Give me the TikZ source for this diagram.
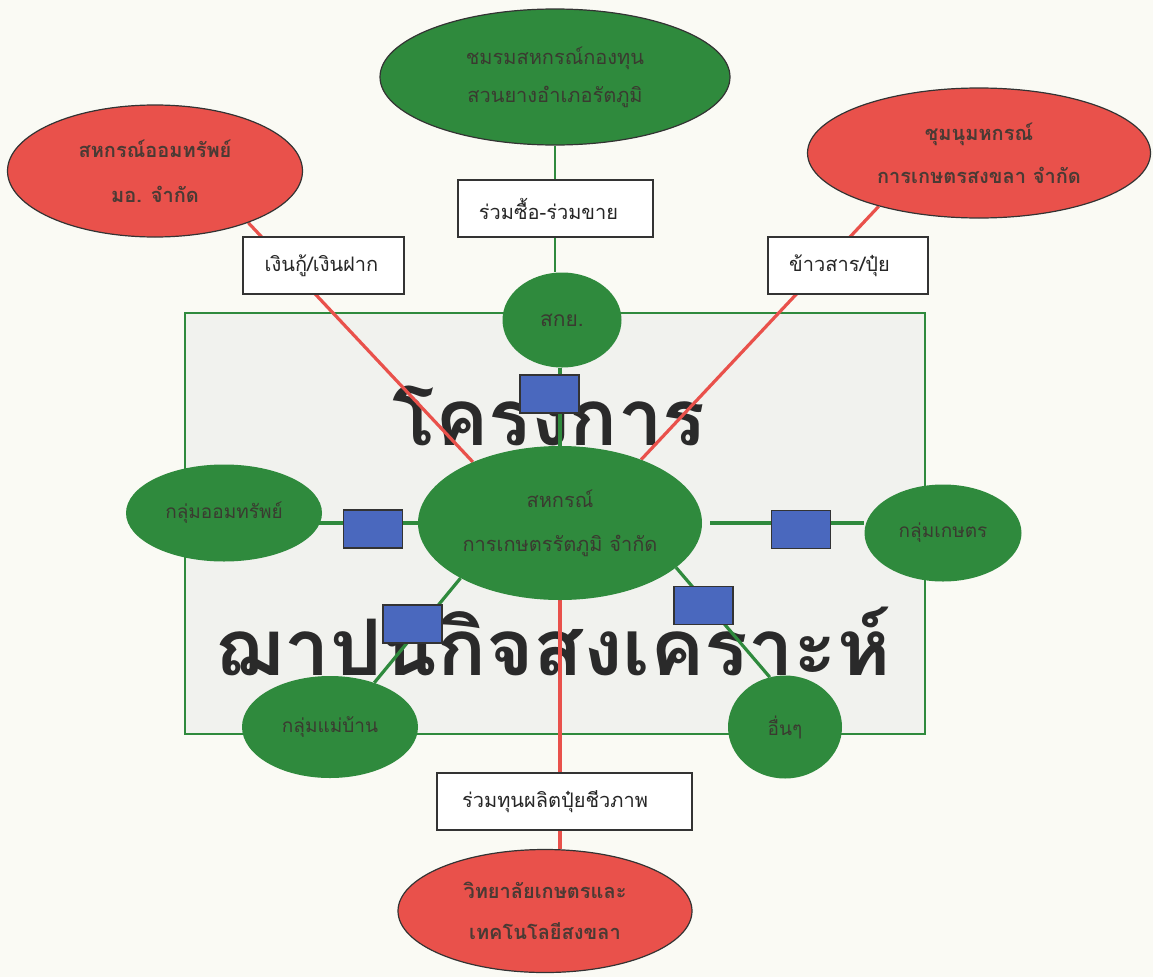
\documentclass[tikz,border=0pt]{standalone}
\usepackage{fontspec}
\usepackage{graphicx}
\setmainfont{Loma}[Script=Thai]
\usetikzlibrary{shapes.geometric}
\definecolor{pagebg}{HTML}{FAFAF4}
\definecolor{panelbg}{HTML}{F1F2EE}
\definecolor{grn}{HTML}{2F8A3D}
\definecolor{rd}{HTML}{E9514B}
\definecolor{blu}{HTML}{4A68BE}
\definecolor{ink}{HTML}{3A3A30}
\definecolor{rink}{HTML}{4A3A34}
\definecolor{bigink}{HTML}{2A2A2A}
\definecolor{edge}{HTML}{333333}
\pgfdeclarelayer{back}
\pgfdeclarelayer{mid}
\pgfsetlayers{back,mid,main}
\tikzset{
  greenov/.style={ellipse, fill=grn, inner sep=0pt, text=ink, align=center},
  outlined/.style={draw=edge, line width=1.2pt},
  redov/.style={ellipse, fill=rd, draw=edge, line width=1.2pt, inner sep=0pt, text=rink, align=center},
  labelbox/.style={rectangle, fill=white, draw=edge, line width=1.3pt, inner sep=0pt, text=black!85,
    minimum height=57pt, font=\fontsize{20}{24}\selectfont},
  bluebox/.style={rectangle, fill=blu, draw=edge, line width=1.2pt, inner sep=0pt,
    minimum width=59pt, minimum height=38pt},
  gline/.style={draw=grn, line width=3.2pt},
  thingline/.style={draw=grn, line width=1.8pt},
  rline/.style={draw=rd, line width=3.2pt},
  bigtext/.style={text=bigink, inner sep=0pt, font=\fontsize{78}{80}\selectfont\bfseries}
}
\begin{document}
\begin{tikzpicture}[x=1pt,y=-1pt]
\useasboundingbox (0,0) rectangle (1153,977);
\begin{pgfonlayer}{back}
\fill[pagebg] (0,0) rectangle (1153,977);
\node[rectangle, draw=grn, line width=1.3pt, fill=panelbg, inner sep=0pt,
  minimum width=740pt, minimum height=421pt] (panel) at (555,523.5) {};
\node[bigtext, anchor=base] (title1) at (549,445) {\scalebox{1.02}[1]{โครงการ}};
\node[bigtext, anchor=base] (title2) at (553,675) {\scalebox{1.04}[1]{ฌาปนกิจสงเคราะห์}};
\end{pgfonlayer}

% ovals
\node[greenov, minimum width=284pt, minimum height=154pt,
  font=\fontsize{20}{44}\selectfont] (c) at (560,523) {สหกรณ์\\การเกษตรรัตภูมิ จำกัด};
\node[greenov, outlined, minimum width=350pt, minimum height=136pt,
  font=\fontsize{20}{38}\selectfont] (ptop) at (555,77) {ชมรมสหกรณ์กองทุน\\สวนยางอำเภอรัตภูมิ};
\node[redov, minimum width=295pt, minimum height=132pt,
  font=\fontsize{20}{45}\selectfont\bfseries] (tl) at (155,171) {สหกรณ์ออมทรัพย์\\มอ. จำกัด};
\node[redov, minimum width=343pt, minimum height=130pt,
  font=\fontsize{20}{43}\selectfont\bfseries] (tr) at (979,153) {ชุมนุมหกรณ์\\การเกษตรสงขลา จำกัด};
\node[redov, minimum width=294pt, minimum height=123pt,
  font=\fontsize{20}{41}\selectfont\bfseries] (bot) at (545,911) {วิทยาลัยเกษตรและ\\เทคโนโลยีสงขลา};
\node[greenov, minimum width=119pt, minimum height=95pt,
  font=\fontsize{21}{24}\selectfont] (skoy) at (562,320) {สกย.};
\node[greenov, minimum width=196pt, minimum height=97pt,
  font=\fontsize{19}{24}\selectfont] (gl) at (224,513) {กลุ่มออมทรัพย์};
\node[greenov, minimum width=157pt, minimum height=97pt,
  font=\fontsize{19}{24}\selectfont] (gr) at (943,533) {กลุ่มเกษตร};
\node[greenov, minimum width=176pt, minimum height=102pt,
  font=\fontsize{19}{24}\selectfont] (gmb) at (330,727) {กลุ่มแม่บ้าน};
\node[greenov, minimum width=114pt, minimum height=103pt,
  font=\fontsize{19}{24}\selectfont] (other) at (785,727) {อื่นๆ};

% label boxes
\node[labelbox, minimum width=195pt] (lb1) at (555.5,208.5) {ร่วมซื้อ-ร่วมขาย\hspace*{14pt}};
\node[labelbox, minimum width=161pt] (lb2) at (323.5,265.5) {เงินกู้/เงินฝาก\hspace*{4pt}};
\node[labelbox, minimum width=160pt] (lb3) at (848,265.5) {ข้าวสาร/ปุ๋ย\hspace*{17pt}};
\node[labelbox, minimum width=255pt] (lb4) at (564.5,801.5) {ร่วมทุนผลิตปุ๋ยชีวภาพ\hspace*{19pt}};

% blue boxes
\node[bluebox] (bb1) at (549.5,394) {};
\node[bluebox] (bb2) at (373,529) {};
\node[bluebox] (bb3) at (801,529.5) {};
\node[bluebox] (bb4) at (412.5,624) {};
\node[bluebox] (bb5) at (703.5,605.5) {};

% connectors
\begin{pgfonlayer}{mid}
\draw[thingline] (ptop.south) -- (ptop.south |- skoy.north);
\draw[gline] (skoy.south -| c.north) -- (c.north);
\draw[gline, shorten >=-4pt] (c.west) -- (c.west -| gl.east);
\draw[gline, shorten <=8pt] (c.east) -- (gr.west |- c.east);
\draw[gline] (c.209) -- (gmb.45);
\draw[gline] (c.-21) -- (other.107);
\draw[rline] (tl.-29) -- (c.145);
\draw[rline] (tr.208) -- (c.38);
\draw[rline] (c.south) -- (c.south |- bot.north);
\end{pgfonlayer}
\end{tikzpicture}
\end{document}
